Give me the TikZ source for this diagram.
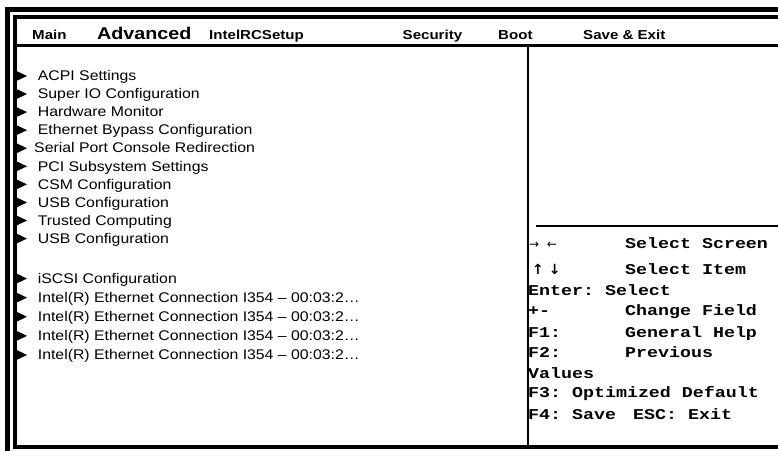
\documentclass[tikz,border=0pt]{standalone}
\usepackage{fontspec}
\setmainfont{Liberation Sans}[FakeStretch=1.16]
\setmonofont{Liberation Mono}[FakeStretch=1.22]
\newfontfamily\listfont{Liberation Sans}[FakeStretch=1.13]
\newfontfamily\symfont{DejaVu Sans}
\usetikzlibrary{positioning}

\begin{document}
\begin{tikzpicture}[
  x=1pt, y=-1pt,
  every node/.style={inner sep=0pt, anchor=base west},
  tab/.style={font=\bfseries\fontsize{13}{15}\selectfont},
  item/.style={font=\listfont\fontsize{14}{16}\selectfont},
  key/.style={font=\ttfamily\bfseries\fontsize{15}{17}\selectfont},
  frame/.style={line width=4pt},
  rule/.style={line width=2pt}
]
\fill[white] (0,0) rectangle (778,450);
\useasboundingbox (0,0) rectangle (778,450);

% double frame
\draw[frame, line width=5pt] (7.5,452) -- (7.5,9) -- (778,9);
\draw[frame] (780,17) -- (15,17) -- (15,447) -- (780,447);
\draw[line width=3pt] (15,45.5) -- (778,45.5);
\draw[rule] (528,45.5) -- (528,447);
\draw[rule] (536,226) -- (778,226);

% menu bar
\node[tab] (main) at (32,39) {Main};
\node[tab, font=\bfseries\fontsize{17}{19}\selectfont] (adv) at (97,39) {Advanced};
\node[tab] (rc)   at (209,39) {IntelRCSetup};
\node[tab] (sec)  at (402.5,39) {Security};
\node[tab] (boot) at (498,39) {Boot};
\node[tab] (save) at (583,39) {Save \& Exit};

% submenus
\foreach \txt/\xx [count=\i from 0, evaluate=\i as \yy using 80.7+18.07*\i] in
   {ACPI Settings/37.7, Super IO Configuration/37.7,
    Hardware Monitor/37.7, Ethernet Bypass Configuration/37.7,
    Serial Port Console Redirection/34, PCI Subsystem Settings/37.7,
    CSM Configuration/37.7, USB Configuration/37.7, Trusted Computing/37.7,
    USB Configuration/37.7}{
  \fill (17,\yy-9.5) -- (27,\yy-4.75) -- (17,\yy) -- cycle;
  \node[item] (it\i) at (\xx,\yy) {\txt};
}
\foreach \txt [count=\i from 0, evaluate=\i as \yy using 283.3+19.1*\i] in
   {iSCSI Configuration,
    Intel(R) Ethernet Connection I354 – 00:03:2…,
    Intel(R) Ethernet Connection I354 – 00:03:2…,
    Intel(R) Ethernet Connection I354 – 00:03:2…,
    Intel(R) Ethernet Connection I354 – 00:03:2…}{
  \fill (17,\yy-9.5) -- (27,\yy-4.75) -- (17,\yy) -- cycle;
  \node[item] (ij\i) at (37.7,\yy) {\txt};
}

% help keys
\node[font=\symfont\fontsize{12}{14}\selectfont] (lr) at (529,248) {→ \ ←};
\node[font=\symfont\bfseries\fontsize{14}{16}\selectfont] (ud) at (532,274) {↑ ↓};
\node[key] (scr)  at (625,248) {Select Screen};
\node[key] (itm)  at (625,274) {Select Item};
\node[key] (ent)  at (528,295) {Enter: Select};
\node[key] (pm)   at (528,315.5) {+-};
\node[key] (chg)  at (625,315.5) {Change Field};
\node[key] (fa)   at (528,337) {F1:};
\node[key] (gen)  at (625,337) {General Help};
\node[key] (fb)   at (528,357) {F2:};
\node[key] (prev) at (625,357) {Previous};
\node[key] (val)  at (528,378) {Values};
\node[key] (fc)   at (528,397.5) {F3: Optimized Default};
\node[key] (fd)   at (528,419) {F4: Save};
\node[key] (esc)  at (633,419) {ESC: Exit};
\end{tikzpicture}
\end{document}
